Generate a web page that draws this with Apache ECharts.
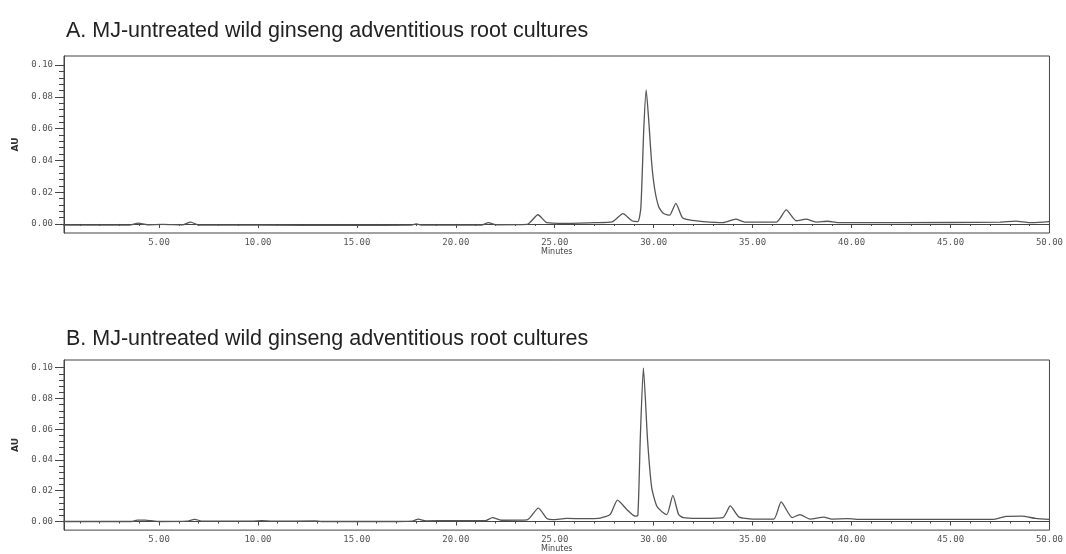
<!DOCTYPE html>
<html>
<head>
<meta charset="utf-8">
<script src="https://cdn.jsdelivr.net/npm/echarts@6/dist/echarts.min.js"></script>
<style>
  html, body { margin: 0; padding: 0; background: #fff; }
  #main { width: 1066px; height: 554px; }
</style>
</head>
<body>
<div id="main"></div>
<script>
// 面板标题
var titles = [
  'A. MJ-untreated wild ginseng adventitious root cultures',
  'B. MJ-untreated wild ginseng adventitious root cultures'
];

// A 图：保留时间 (min) 与吸光度 (AU)
var timeA = [0, 3.5, 3.95, 4.4, 5.2, 6.2, 6.6, 7.0, 10, 15, 17.7, 18.0, 18.3, 21.3, 21.65, 22.0,
  23.6, 24.15, 24.6, 25.5, 27, 27.9, 28.45, 28.9, 29.2, 29.35, 29.5, 29.62, 29.75, 29.9, 30.05,
  30.25, 30.5, 30.8, 31.12, 31.45, 31.8, 32.5, 33.5, 34.15, 34.6, 36.2, 36.7, 37.2, 37.7, 38.2,
  38.8, 39.3, 40, 45, 47.5, 48.3, 49, 49.7, 50];
var absA = [-0.0008, -0.0008, 0.0005, -0.0005, -0.0003, -0.0006, 0.0012, -0.0007, -0.0008, -0.0009,
  -0.0008, 0.0, -0.0008, -0.0007, 0.0008, -0.0005, -0.0003, 0.0058, 0.0008, 0.0003, 0.0008, 0.0013,
  0.0065, 0.002, 0.0015, 0.01, 0.06, 0.0843, 0.065, 0.038, 0.022, 0.011, 0.0065, 0.0055, 0.013,
  0.004, 0.0025, 0.0015, 0.0008, 0.003, 0.0012, 0.0012, 0.0088, 0.002, 0.003, 0.0012, 0.0017,
  0.0008, 0.0008, 0.0009, 0.0012, 0.0018, 0.0008, 0.0012, 0.0015];

// B 图
var timeB = [0, 3.6, 3.9, 4.3, 4.6, 5.0, 6.4, 6.8, 7.2, 9.7, 10.2, 10.7, 12.9, 13.2, 16.2, 17.8,
  18.1, 18.5, 19.7, 21.5, 21.85, 22.3, 23.6, 24.17, 24.6, 24.9, 25.6, 26.5, 27.3, 27.8, 28.17,
  28.65, 29.06, 29.2, 29.32, 29.48, 29.69, 29.9, 30.16, 30.5, 30.67, 30.97, 31.26, 31.5, 32.2,
  33.5, 33.87, 34.3, 35.0, 36.07, 36.44, 37.0, 37.38, 37.9, 38.6, 39.0, 39.8, 40.5, 47.2, 47.8,
  48.6, 49.3, 50];
var absB = [0.0, 0.0, 0.0009, 0.0009, 0.0005, 0.0, 0.0002, 0.0014, 0.0002, 0.0002, 0.0005, 0.0002,
  0.0004, 0.0, 0.0, 0.0003, 0.0015, 0.0004, 0.0006, 0.0006, 0.0025, 0.0008, 0.001, 0.0087, 0.002,
  0.0012, 0.002, 0.0018, 0.0022, 0.0045, 0.0139, 0.0077, 0.0035, 0.004, 0.053, 0.0998, 0.053,
  0.022, 0.0099, 0.0055, 0.0045, 0.017, 0.0045, 0.0025, 0.002, 0.0025, 0.0101, 0.003, 0.0016,
  0.0016, 0.0128, 0.0025, 0.0045, 0.0016, 0.0028, 0.0016, 0.0018, 0.0014, 0.0014, 0.0033, 0.0035,
  0.002, 0.0014];

// 刻度
var xMajorTicks = [5, 10, 15, 20, 25, 30, 35, 40, 45, 50];
var xMinorTicks = [1, 2, 3, 4, 6, 7, 8, 9, 11, 12, 13, 14, 16, 17, 18, 19, 21, 22, 23, 24, 26, 27,
  28, 29, 31, 32, 33, 34, 36, 37, 38, 39, 41, 42, 43, 44, 46, 47, 48, 49];
var yMajorTicks = [0, 0.02, 0.04, 0.06, 0.08, 0.10];
var yMinorTicks = [0.004, 0.008, 0.012, 0.016, 0.024, 0.028, 0.032, 0.036, 0.044, 0.048, 0.052,
  0.056, 0.064, 0.068, 0.072, 0.076, 0.084, 0.088, 0.092, 0.096];

var chart = echarts.init(document.getElementById('main'));

var axisColor = '#444';
var labelFont = { fontFamily: 'DejaVu Sans Mono', fontSize: 9, color: '#555' };

// 每个面板的范围
var panels = [
  { top: 56, height: 177, yMin: -0.0057, yMax: 0.1057, titleTop: 20 },
  { top: 360, height: 178, yMin: -0.0056, yMax: 0.105, titleTop: 328 }
];

var grids = [], xAxes = [], yAxes = [], titleList = [];
panels.forEach(function (p, i) {
  grids.push({
    left: 64, right: 14, top: p.top, height: p.height,
    show: true, borderColor: axisColor, borderWidth: 1, backgroundColor: 'transparent'
  });
  titleList.push({
    text: titles[i], left: 66, top: p.titleTop, padding: 0,
    textStyle: { fontFamily: 'Liberation Sans', fontSize: 21.5, fontWeight: 'normal', color: '#222' }
  });
  // 主刻度 + 标签
  xAxes.push({
    type: 'value', gridIndex: i, position: 'bottom', min: 0.2, max: 50,
    name: 'Minutes', nameLocation: 'middle', nameGap: 14,
    nameTextStyle: { fontFamily: 'DejaVu Sans', fontSize: 8, color: '#444' },
    axisLine: { show: true, lineStyle: { color: axisColor, width: 1 } },
    axisTick: { show: true, length: 4, customValues: xMajorTicks, lineStyle: { color: axisColor } },
    axisLabel: Object.assign({ margin: 5, customValues: xMajorTicks,
      formatter: function (v) { return v.toFixed(2); } }, labelFont),
    splitLine: { show: false }
  });
  // 次刻度
  xAxes.push({
    type: 'value', gridIndex: i, position: 'bottom', min: 0.2, max: 50,
    axisLine: { show: false },
    axisTick: { show: true, length: 2, customValues: xMinorTicks, lineStyle: { color: axisColor } },
    axisLabel: { show: false }, splitLine: { show: false }
  });
  yAxes.push({
    type: 'value', gridIndex: i, position: 'left', min: p.yMin, max: p.yMax,
    name: 'AU', nameLocation: 'middle', nameGap: 42, nameRotate: 90,
    nameTextStyle: { fontFamily: 'DejaVu Sans', fontSize: 9, fontWeight: 'bold', color: '#333' },
    axisLine: { show: true, lineStyle: { color: axisColor, width: 1 } },
    axisTick: { show: true, length: 9, customValues: yMajorTicks, lineStyle: { color: axisColor } },
    axisLabel: Object.assign({ margin: 11, customValues: yMajorTicks,
      formatter: function (v) { return v.toFixed(2); } }, labelFont),
    splitLine: { show: false }
  });
  yAxes.push({
    type: 'value', gridIndex: i, position: 'left', min: p.yMin, max: p.yMax,
    axisLine: { show: false },
    axisTick: { show: true, length: 5, customValues: yMinorTicks, lineStyle: { color: axisColor } },
    axisLabel: { show: false }, splitLine: { show: false }
  });
});

function zip(t, v) {
  return t.map(function (x, k) { return [x, v[k]]; });
}

chart.setOption({
  animation: false,
  title: titleList,
  grid: grids,
  xAxis: xAxes,
  yAxis: yAxes,
  series: [{
    type: 'line', xAxisIndex: 0, yAxisIndex: 0, data: zip(timeA, absA),
    showSymbol: false, smooth: 0.2,
    lineStyle: { color: '#555', width: 1.3 }
  }, {
    type: 'line', xAxisIndex: 2, yAxisIndex: 2, data: zip(timeB, absB),
    showSymbol: false, smooth: 0.2,
    lineStyle: { color: '#555', width: 1.3 }
  }]
});
</script>
</body>
</html>
